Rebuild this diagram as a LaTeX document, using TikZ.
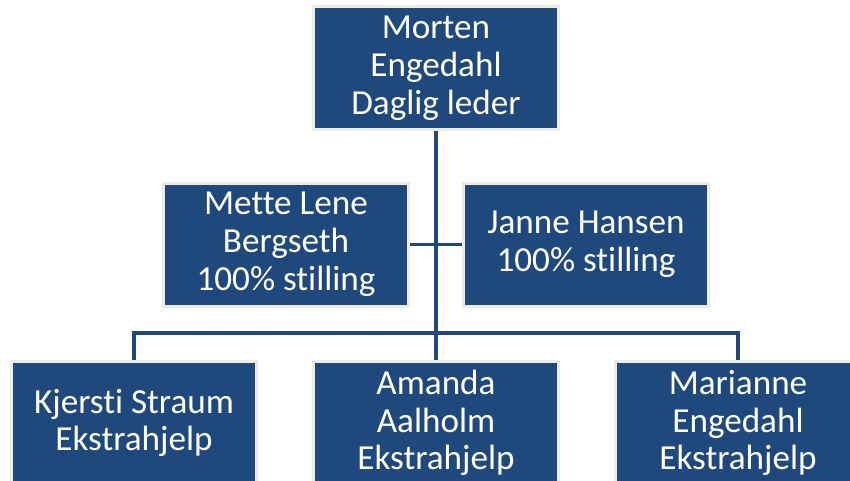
\documentclass[tikz,border=0pt]{standalone}
\usepackage{fontspec}
\setmainfont{Carlito}[Ligatures=NoCommon]
\usetikzlibrary{positioning}

\definecolor{boxblue}{HTML}{1F497D}
\definecolor{boxrim}{HTML}{EEECE1}

\tikzset{
  person/.style={fill=boxblue, draw=boxrim, line width=0.06cm,
    minimum width=4.9cm, minimum height=2.46cm, inner sep=0pt,
    align=center, text=white, font=\fontsize{20}{21.5}\selectfont},
  link/.style={draw=boxblue, line width=0.065cm}
}

\begin{document}
\begin{tikzpicture}

\useasboundingbox (0,0) rectangle (17,9.6);
\clip (0,0) rectangle (17,9.6);
\fill[white] (0,0) rectangle (17,9.6);

% top
\node[person] (mo) at (8.72, 8.24) {Morten\\Engedahl\\Daglig leder};

% middle row
\node[person] (ml) at (5.72, 4.71) {Mette Lene\\Bergseth\\100\% stilling};
\node[person] (jh) at (11.72, 4.71) {Janne Hansen\\100\% stilling};

% bottom row
\node[person] (ks) at (2.68, 1.14) {Kjersti Straum\\Ekstrahjelp};
\node[person] (aa) at (8.72, 1.14) {Amanda\\Aalholm\\Ekstrahjelp};
\node[person] (me) at (14.76, 1.14) {Marianne\\Engedahl\\Ekstrahjelp};

\coordinate (bar) at (8.72, 2.94);

\draw[link] (mo.south) -- (aa.north);
\draw[link] (ml.east) -- (jh.west);
\draw[link] (ks.north) -- (ks.north |- bar) -- (me.north |- bar) -- (me.north);

\end{tikzpicture}
\end{document}
